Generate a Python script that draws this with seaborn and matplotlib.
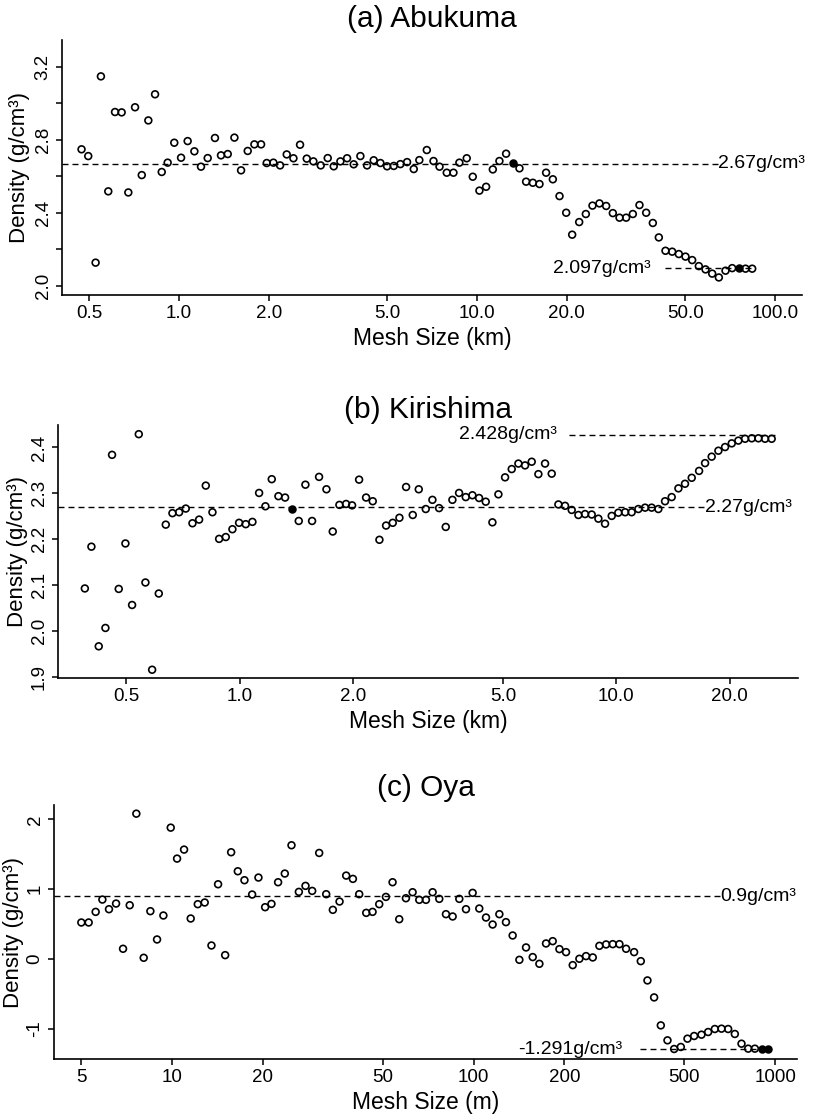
import numpy as np
import matplotlib
matplotlib.use("Agg")
import matplotlib.pyplot as plt
import matplotlib.ticker as mticker
import seaborn as sns

# (a) Abukuma, mesh size in km
a_size = [0.471, 0.496, 0.525, 0.547, 0.579, 0.610, 0.642, 0.676, 0.712, 0.750,
          0.789, 0.831, 0.875, 0.916, 0.964, 1.016, 1.069, 1.126, 1.185, 1.248,
          1.320, 1.383, 1.457, 1.534, 1.615, 1.700, 1.790, 1.885, 1.969, 2.073,
          2.183, 2.298, 2.420, 2.547, 2.682, 2.823, 2.988, 3.154, 3.304, 3.478,
          3.663, 3.855, 4.059, 4.274, 4.499, 4.738, 4.989, 5.253, 5.529, 5.822,
          6.130, 6.40, 6.78, 7.14, 7.48, 7.91, 8.33, 8.72, 9.23, 9.67,
          10.18, 10.72, 11.29, 11.88, 12.51, 13.17, 13.87, 14.60, 15.38, 16.19,
          17.04, 17.95, 18.90, 19.90, 20.84, 22.00, 23.16, 24.38, 25.73, 27.10,
          28.53, 30.04, 31.62, 33.30, 35.05, 36.91, 38.86, 40.70, 42.85, 45.12,
          47.50, 50.01, 52.66, 55.44, 58.38, 61.46, 64.71, 68.13, 71.73, 75.52,
          79.51, 83.72]
a_density = [2.748, 2.711, 2.128, 3.147, 2.518, 2.952, 2.950, 2.512, 2.978, 2.607,
             2.906, 3.049, 2.624, 2.675, 2.784, 2.702, 2.793, 2.737, 2.653, 2.700,
             2.810, 2.715, 2.722, 2.812, 2.633, 2.739, 2.775, 2.775, 2.673, 2.675,
             2.660, 2.720, 2.699, 2.773, 2.697, 2.682, 2.660, 2.700, 2.655, 2.682,
             2.699, 2.666, 2.711, 2.660, 2.688, 2.673, 2.655, 2.657, 2.667, 2.678,
             2.640, 2.689, 2.744, 2.684, 2.653, 2.620, 2.620, 2.675, 2.699, 2.598,
             2.522, 2.543, 2.638, 2.684, 2.724, 2.675, 2.644, 2.571, 2.565, 2.558,
             2.620, 2.584, 2.492, 2.401, 2.281, 2.350, 2.394, 2.440, 2.452, 2.438,
             2.399, 2.374, 2.374, 2.394, 2.443, 2.401, 2.345, 2.266, 2.193, 2.188,
             2.175, 2.161, 2.142, 2.109, 2.091, 2.068, 2.047, 2.084, 2.098, 2.098,
             2.095, 2.095]
a_solid = [65, 99]

# (b) Kirishima, mesh size in km
b_size = [0.3877, 0.4036, 0.4221, 0.4397, 0.4579, 0.4770, 0.4969, 0.5176, 0.5392, 0.5616,
          0.5851, 0.6094, 0.6360, 0.6625, 0.6901, 0.7188, 0.7488, 0.7799, 0.8124, 0.8462,
          0.8814, 0.9181, 0.9561, 0.9959, 1.0373, 1.0805, 1.1256, 1.1698, 1.2162, 1.2668,
          1.3195, 1.3744, 1.4345, 1.4941, 1.5563, 1.6243, 1.6993, 1.7660, 1.8395, 1.9160,
          1.9878, 2.0750, 2.1655, 2.2556, 2.3496, 2.4474, 2.5492, 2.6553, 2.7659, 2.8810,
          2.9887, 3.1193, 3.2491, 3.3843, 3.5252, 3.6718, 3.8246, 3.9838, 4.1494, 4.3221,
          4.5019, 4.6893, 4.8644, 5.0668, 5.2776, 5.4972, 5.7259, 5.9642, 6.2123, 6.4708,
          6.7401, 7.0206, 7.3127, 7.6170, 7.9339, 8.2641, 8.6079, 8.9661, 9.3392, 9.7279,
          10.13, 10.56, 10.99, 11.45, 11.93, 12.42, 12.94, 13.48, 14.04, 14.63,
          15.23, 15.87, 16.60, 17.22, 17.93, 18.68, 19.46, 20.27, 21.11, 21.99,
          22.91, 23.86, 24.85, 25.88]
b_density = [2.093, 2.184, 1.967, 2.007, 2.384, 2.092, 2.191, 2.057, 2.429, 2.106,
             1.916, 2.082, 2.232, 2.257, 2.259, 2.267, 2.235, 2.243, 2.317, 2.259,
             2.201, 2.205, 2.222, 2.236, 2.233, 2.238, 2.301, 2.272, 2.331, 2.294,
             2.291, 2.267, 2.240, 2.319, 2.240, 2.336, 2.309, 2.217, 2.275, 2.277,
             2.274, 2.330, 2.291, 2.283, 2.199, 2.230, 2.236, 2.247, 2.314, 2.253,
             2.309, 2.266, 2.286, 2.268, 2.227, 2.286, 2.301, 2.292, 2.296, 2.290,
             2.282, 2.237, 2.298, 2.335, 2.353, 2.365, 2.361, 2.369, 2.342, 2.365,
             2.343, 2.276, 2.273, 2.264, 2.253, 2.255, 2.254, 2.245, 2.234, 2.251,
             2.258, 2.259, 2.259, 2.266, 2.269, 2.269, 2.266, 2.283, 2.292, 2.311,
             2.321, 2.334, 2.349, 2.366, 2.380, 2.393, 2.401, 2.409, 2.415, 2.419,
             2.420, 2.420, 2.419, 2.419]
b_solid = [31]

# (c) Oya, mesh size in m
c_size = [5.002, 5.290, 5.580, 5.874, 6.178, 6.521, 6.878, 7.237, 7.613, 8.053,
          8.474, 8.917, 9.359, 9.899, 10.39, 10.96, 11.53, 12.17, 12.83, 13.51,
          14.21, 15.00, 15.70, 16.52, 17.38, 18.43, 19.34, 20.35, 21.36, 22.47,
          23.65, 24.89, 26.33, 27.70, 29.15, 30.75, 32.44, 34.13, 35.92, 37.79,
          39.78, 41.74, 44.04, 46.22, 48.64, 51.18, 53.85, 56.66, 59.63, 62.75,
          66.03, 69.48, 73.11, 76.93, 80.95, 85.19, 89.64, 94.32, 99.24, 104.4,
          109.9, 115.6, 121.7, 128.0, 134.7, 141.8, 149.2, 157.0, 165.2, 173.8,
          182.9, 192.5, 202.5, 213.1, 224.2, 235.9, 248.3, 261.2, 274.9, 289.3,
          304.4, 320.3, 340.5, 358.3, 377.0, 396.7, 417.5, 439.3, 462.2, 486.4,
          511.8, 538.5, 569.5, 599.3, 630.6, 663.6, 698.2, 734.7, 773.1, 813.6,
          856.1, 900.8, 948.0]
c_density = [0.524, 0.524, 0.676, 0.852, 0.714, 0.795, 0.148, 0.771, 2.081, 0.019,
             0.686, 0.281, 0.624, 1.881, 1.438, 1.567, 0.581, 0.786, 0.810, 0.195,
             1.071, 0.057, 1.529, 1.257, 1.129, 0.924, 1.167, 0.743, 0.790, 1.100,
             1.224, 1.629, 0.962, 1.048, 0.976, 1.519, 0.929, 0.705, 0.824, 1.195,
             1.148, 0.929, 0.662, 0.676, 0.786, 0.890, 1.100, 0.571, 0.871, 0.957,
             0.848, 0.848, 0.957, 0.862, 0.643, 0.610, 0.862, 0.714, 0.948, 0.724,
             0.595, 0.495, 0.643, 0.529, 0.338, -0.010, 0.167, 0.029, -0.067, 0.224,
             0.257, 0.143, 0.100, -0.086, 0.005, 0.043, 0.024, 0.190, 0.210, 0.214,
             0.214, 0.148, 0.100, -0.029, -0.305, -0.548, -0.948, -1.162, -1.286, -1.257,
             -1.138, -1.100, -1.081, -1.043, -1.000, -0.995, -1.000, -1.071, -1.210, -1.281,
             -1.281, -1.281, -1.281]
c_solid = [101, 102]

# reference lines: value, x-extent, label text, label x, alignment
a_refs = [(2.67, 0.405, 64.4, "2.67g/cm³", 64.4, "left"),
          (2.097, 42.7, 85.0, "2.097g/cm³", 38.1, "right")]
b_refs = [(2.27, 0.329, 17.2, "2.27g/cm³", 17.2, "left"),
          (2.428, 7.5, 26.7, "2.428g/cm³", 6.95, "right")]
c_refs = [(0.9, 4.06, 657.0, "0.9g/cm³", 657.0, "left"),
          (-1.291, 356.0, 941.0, "-1.291g/cm³", 310.0, "right")]

panels = [
    dict(title="(a) Abukuma", xlabel="Mesh Size (km)", x=a_size, y=a_density, solid=a_solid,
         refs=a_refs, rect=[62, 40, 802, 295], xlim=(0.405, 123), ylim=(1.951, 3.346),
         xticks=[0.5, 1, 2, 5, 10, 20, 50, 100],
         xticklabels=["0.5", "1.0", "2.0", "5.0", "10.0", "20.0", "50.0", "100.0"],
         yticks=[2.0, 2.4, 2.8, 3.2], yticklabels=["2.0", "2.4", "2.8", "3.2"],
         yminor=[2.2, 2.6, 3.0], title_y=19, ylabel_x=20),
    dict(title="(b) Kirishima", xlabel="Mesh Size (km)", x=b_size, y=b_density, solid=b_solid,
         refs=b_refs, rect=[58, 425, 798, 678], xlim=(0.329, 30.4), ylim=(1.898, 2.449),
         xticks=[0.5, 1, 2, 5, 10, 20],
         xticklabels=["0.5", "1.0", "2.0", "5.0", "10.0", "20.0"],
         yticks=[1.9, 2.0, 2.1, 2.2, 2.3, 2.4],
         yticklabels=["1.9", "2.0", "2.1", "2.2", "2.3", "2.4"],
         yminor=[], title_y=410, ylabel_x=18),
    dict(title="(c) Oya", xlabel="Mesh Size (m)", x=c_size, y=c_density, solid=c_solid,
         refs=c_refs, rect=[54, 805, 797, 1059], xlim=(4.06, 1181), ylim=(-1.429, 2.205),
         xticks=[5, 10, 20, 50, 100, 200, 500, 1000],
         xticklabels=["5", "10", "20", "50", "100", "200", "500", "1000"],
         yticks=[-1, 0, 1, 2], yticklabels=["-1", "0", "1", "2"],
         yminor=[], title_y=788, ylabel_x=14),
]

sns.set_style("ticks")
plt.rcParams["font.family"] = ["Liberation Sans", "DejaVu Sans"]
plt.rcParams["text.color"] = "black"
plt.rcParams["axes.labelcolor"] = "black"

W, H = 813, 1117
fig = plt.figure(figsize=(W / 100, H / 100), dpi=100)

for p in panels:
    l, t, r, b = p["rect"]
    ax = fig.add_axes([l / W, 1 - b / H, (r - l) / W, (b - t) / H])
    ax.set_xscale("log")

    open_idx = [i for i in range(len(p["x"])) if i not in p["solid"]]
    sns.scatterplot(x=[p["x"][i] for i in open_idx], y=[p["y"][i] for i in open_idx],
                    ax=ax, marker="o", s=24, facecolors="none", edgecolor="black",
                    linewidth=1.2, zorder=3)
    sns.scatterplot(x=[p["x"][i] for i in p["solid"]], y=[p["y"][i] for i in p["solid"]],
                    ax=ax, marker="o", s=24, color="black", edgecolor="black",
                    linewidth=1.2, zorder=3)

    for val, x0, x1, txt, tx, ha in p["refs"]:
        ax.plot([x0, x1], [val, val], color="black", lw=1.0,
                linestyle=(0, (4.3, 2.9)), zorder=2)
        ax.text(tx, val, txt, ha=ha, va="center", fontsize=14, color="black")

    ax.set_xlim(*p["xlim"])
    ax.set_ylim(*p["ylim"])
    ax.set_xticks(p["xticks"])
    ax.set_xticklabels(p["xticklabels"])
    ax.xaxis.set_minor_locator(mticker.NullLocator())
    ax.set_yticks(p["yticks"])
    ax.set_yticklabels(p["yticklabels"], rotation=90, va="center")
    ax.set_yticks(p["yminor"], minor=True)

    ax.tick_params(axis="both", which="both", direction="out", length=4.5, width=1.1,
                   labelsize=13.5, color="black", labelcolor="black")
    ax.tick_params(axis="x", pad=3)
    ax.tick_params(axis="y", pad=3)
    for side in ["top", "right"]:
        ax.spines[side].set_visible(False)
    for side in ["left", "bottom"]:
        ax.spines[side].set_linewidth(1.2)
        ax.spines[side].set_color("black")

    ax.set_xlabel(p["xlabel"], fontsize=16.5, labelpad=3)
    ax.set_ylabel("Density (g/cm³)", fontsize=16)
    ax.yaxis.set_label_coords((p["ylabel_x"] - l) / (r - l), 0.5)
    ax.yaxis.label.set_va("center")
    ax.grid(False)

    fig.text(((l + r) / 2) / W, 1 - p["title_y"] / H, p["title"], ha="center",
             va="center", fontsize=21.5, color="black")

fig.savefig("out.png", dpi=100)
